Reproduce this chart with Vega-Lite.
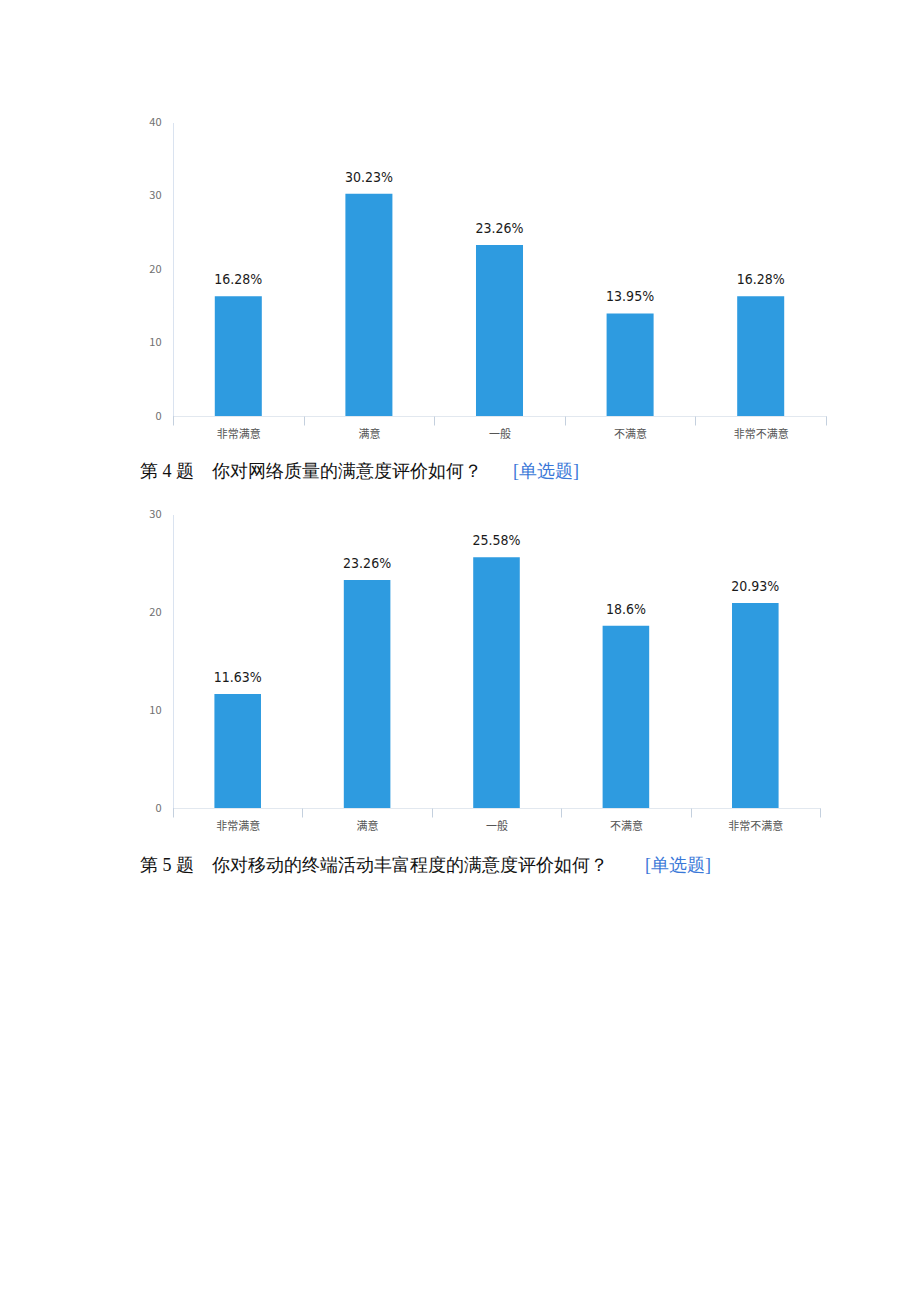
{
  "$schema": "https://vega.github.io/schema/vega-lite/v6.json",
  "background": "white",
  "padding": {"left": 140, "top": 116, "right": 10, "bottom": 10},
  "config": {
    "view": {"stroke": null},
    "axis": {"grid": false, "title": null},
    "concat": {"spacing": 22}
  },
  "datasets": {
    "q4": [
      {"cat": "非常满意", "value": 16.28, "label": "16.28%"},
      {"cat": "满意", "value": 30.23, "label": "30.23%"},
      {"cat": "一般", "value": 23.26, "label": "23.26%"},
      {"cat": "不满意", "value": 13.95, "label": "13.95%"},
      {"cat": "非常不满意", "value": 16.28, "label": "16.28%"}
    ],
    "q5": [
      {"cat": "非常满意", "value": 11.63, "label": "11.63%"},
      {"cat": "满意", "value": 23.26, "label": "23.26%"},
      {"cat": "一般", "value": 25.58, "label": "25.58%"},
      {"cat": "不满意", "value": 18.6, "label": "18.6%"},
      {"cat": "非常不满意", "value": 20.93, "label": "20.93%"}
    ],
    "cap4": [
      {"k": "q", "t": "第 4 题　你对网络质量的满意度评价如何？"},
      {"k": "tag", "t": "[单选题]"}
    ],
    "cap5": [
      {"k": "q", "t": "第 5 题　你对移动的终端活动丰富程度的满意度评价如何？"},
      {"k": "tag", "t": "[单选题]"}
    ]
  },
  "spacing": 27,
  "vconcat": [
    {
      "spacing": 24,
      "vconcat": [
        {
          "data": {"name": "q4"},
          "width": 653,
          "height": 294,
          "encoding": {
            "x": {
              "field": "cat", "type": "nominal", "sort": null,
              "scale": {"paddingInner": 0, "paddingOuter": 0},
              "axis": {"labelAngle": 0, "tickBand": "extent", "tickSize": 9, "tickColor": "#c4d0de", "domainColor": "#c4d0de", "domainDash": [1, 1], "labelColor": "#555555", "labelFontSize": 11, "labelFont": "Noto Sans CJK SC", "labelPadding": 3}
            },
            "y": {
              "field": "value", "type": "quantitative",
              "scale": {"domain": [0, 40], "nice": false},
              "axis": {"values": [0, 10, 20, 30, 40], "ticks": false, "domainColor": "#b4c6e0", "domainDash": [1, 1], "labelColor": "#707070", "labelFontSize": 11, "labelFont": "Noto Sans CJK SC", "labelPadding": 12}
            }
          },
          "layer": [
            {"mark": {"type": "bar", "color": "#2e9be0", "width": {"band": 0.36}}},
            {"mark": {"type": "text", "baseline": "alphabetic", "dy": -12, "fontSize": 14, "font": "DejaVu Sans Condensed, DejaVu Sans", "fontStretch": "condensed", "color": "#1a1a1a"}, "encoding": {"text": {"field": "label"}}}
          ]
        },
        {
          "data": {"name": "cap4"},
          "width": 653,
          "height": 18,
          "mark": {"type": "text", "align": "left", "baseline": "middle", "fontSize": 18, "font": "Liberation Serif"},
          "encoding": {
            "x": {"field": "k", "type": "nominal", "sort": null, "scale": {"type": "point", "range": [-33, 340], "padding": 0}, "axis": null},
            "text": {"field": "t"},
            "color": {"field": "k", "type": "nominal", "sort": null, "scale": {"range": ["#111111", "#3a78d8"]}, "legend": null}
          }
        }
      ]
    },
    {
      "spacing": 26,
      "vconcat": [
        {
          "data": {"name": "q5"},
          "width": 647,
          "height": 294,
          "encoding": {
            "x": {
              "field": "cat", "type": "nominal", "sort": null,
              "scale": {"paddingInner": 0, "paddingOuter": 0},
              "axis": {"labelAngle": 0, "tickBand": "extent", "tickSize": 9, "tickColor": "#c4d0de", "domainColor": "#c4d0de", "domainDash": [1, 1], "labelColor": "#555555", "labelFontSize": 11, "labelFont": "Noto Sans CJK SC", "labelPadding": 3}
            },
            "y": {
              "field": "value", "type": "quantitative",
              "scale": {"domain": [0, 30], "nice": false},
              "axis": {"values": [0, 10, 20, 30], "ticks": false, "domainColor": "#b4c6e0", "domainDash": [1, 1], "labelColor": "#707070", "labelFontSize": 11, "labelFont": "Noto Sans CJK SC", "labelPadding": 12}
            }
          },
          "layer": [
            {"mark": {"type": "bar", "color": "#2e9be0", "width": {"band": 0.36}}},
            {"mark": {"type": "text", "baseline": "alphabetic", "dy": -12, "fontSize": 14, "font": "DejaVu Sans Condensed, DejaVu Sans", "fontStretch": "condensed", "color": "#1a1a1a"}, "encoding": {"text": {"field": "label"}}}
          ]
        },
        {
          "data": {"name": "cap5"},
          "width": 647,
          "height": 18,
          "mark": {"type": "text", "align": "left", "baseline": "middle", "fontSize": 18, "font": "Liberation Serif"},
          "encoding": {
            "x": {"field": "k", "type": "nominal", "sort": null, "scale": {"type": "point", "range": [-33, 472], "padding": 0}, "axis": null},
            "text": {"field": "t"},
            "color": {"field": "k", "type": "nominal", "sort": null, "scale": {"range": ["#111111", "#3a78d8"]}, "legend": null}
          }
        }
      ]
    }
  ]
}
